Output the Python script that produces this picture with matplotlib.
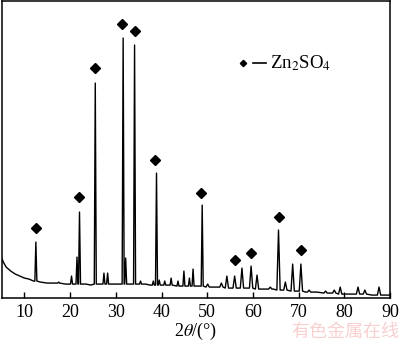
import numpy as np
from matplotlib import pyplot as plt

# fundo (background) do difratograma
bg_theta = [5.0, 5.5, 6.0, 6.5, 7.0, 8.0, 9.0, 10.0, 11.0, 12.0, 13.5, 15.0, 16.5, 19.0,
            23.5, 24.5, 26.5, 29.5, 30.5, 33.0, 36.5, 37.5, 41.5, 45.5, 48.0, 51.0, 52.0,
            55.3, 58.6, 62.0, 64.5, 66.4, 69.6, 71.5, 74.0, 76.8, 80.5, 82.0, 86.0, 89.0, 90.0]
bg_level = [40, 35, 31, 29, 27, 24, 22, 20, 19, 17, 16, 15, 15, 14,
            14, 13, 14, 14, 14, 14, 14, 13, 13, 12, 12, 11, 11,
            10, 10, 9, 9, 8, 7, 6, 6, 5, 4, 4, 3, 3, 3]

# picos: posicao, altura, nivel da base
peak_theta = [12.5, 17.5, 20.3, 21.5, 22.05, 25.5, 27.4, 28.2, 31.6, 32.15, 34.1, 35.4,
              38.2, 38.9, 39.5, 40.7, 42.1, 43.6, 44.9, 46.1, 46.9, 48.9, 50.1, 53.1,
              54.3, 56.0, 57.6, 59.6, 60.9, 63.8, 65.6, 67.1, 68.7, 70.5, 72.3, 75.9,
              77.8, 79.1, 83.0, 84.5, 87.6]
peak_height = [56, 16, 22, 41, 86, 215, 25, 25, 260, 40, 253, 17,
               17, 125, 18, 17, 20, 17, 27, 20, 29, 93, 14, 15,
               22, 22, 30, 32, 23, 11, 68, 16, 34, 34, 8, 7,
               8, 11, 11, 8, 11]
peak_base = [17, 15, 14, 14, 14, 14, 14, 14, 14, 14, 14, 14,
             13, 13, 13, 13, 13, 12, 12, 12, 12, 12, 11, 11,
             10, 10, 10, 10, 9, 9, 8, 8, 7, 7, 6, 5,
             5, 4, 4, 4, 3]

# marcadores Zn2SO4
marker_theta = [12.5, 22.0, 25.5, 31.4, 34.1, 38.6, 48.7, 56.0, 59.5, 65.6, 70.6]
marker_y = [70, 101, 230, 274, 267, 138, 105, 38, 45, 81, 48]

xticks = [10, 20, 30, 40, 50, 60, 70, 80, 90]

# montando o perfil: base + triangulos dos picos (mais largos em angulo alto)
pts = list(zip(bg_theta, bg_level))
for p, h, b in zip(peak_theta, peak_height, peak_base):
    hw = 0.22 if p < 50 else 0.36
    pts += [(p - hw, b), (p, h), (p + hw, b)]
pts.sort(key=lambda t: t[0])
xs = np.array([t[0] for t in pts])
ys = np.array([t[1] for t in pts])

plt.rcParams['font.family'] = ['Liberation Serif', 'DejaVu Serif']
plt.rcParams['mathtext.fontset'] = 'stix'

fig = plt.figure(figsize=(4, 3.45), dpi=100)
ax = fig.add_axes([0.004, 0.136, 0.971, 0.861])

ax.plot(xs, ys, color='black', lw=1.0)
ax.plot(marker_theta, marker_y, ls='none', marker='D', ms=5.5, color='black')

# legenda: losango, traco e texto
ax.plot([57.9], [235], ls='none', marker='D', ms=3.2, color='black')
ax.plot([60.1, 62.9], [235, 235], color='black', lw=1.2)
ax.text(63.8, 235, 'Zn$_2$SO$_4$', fontsize=13.5, va='center', ha='left')

ax.set_xlim(5, 90)
ax.set_ylim(0, 297)
ax.set_xticks(xticks)
ax.set_yticks([])
ax.tick_params(axis='x', direction='in', length=4, width=1, labelsize=13, pad=4)
for s in ax.spines.values():
    s.set_linewidth(1.1)
ax.set_xlabel(r'2$\theta$/(°)', fontsize=13, labelpad=0)

fig.text(0.997, 0.038, '有色金属在线', fontsize=13, color='#f8d0d0', ha='right',
         va='center', family=['Noto Sans CJK SC', 'DejaVu Sans'])

fig.savefig('out.png', dpi=100)
